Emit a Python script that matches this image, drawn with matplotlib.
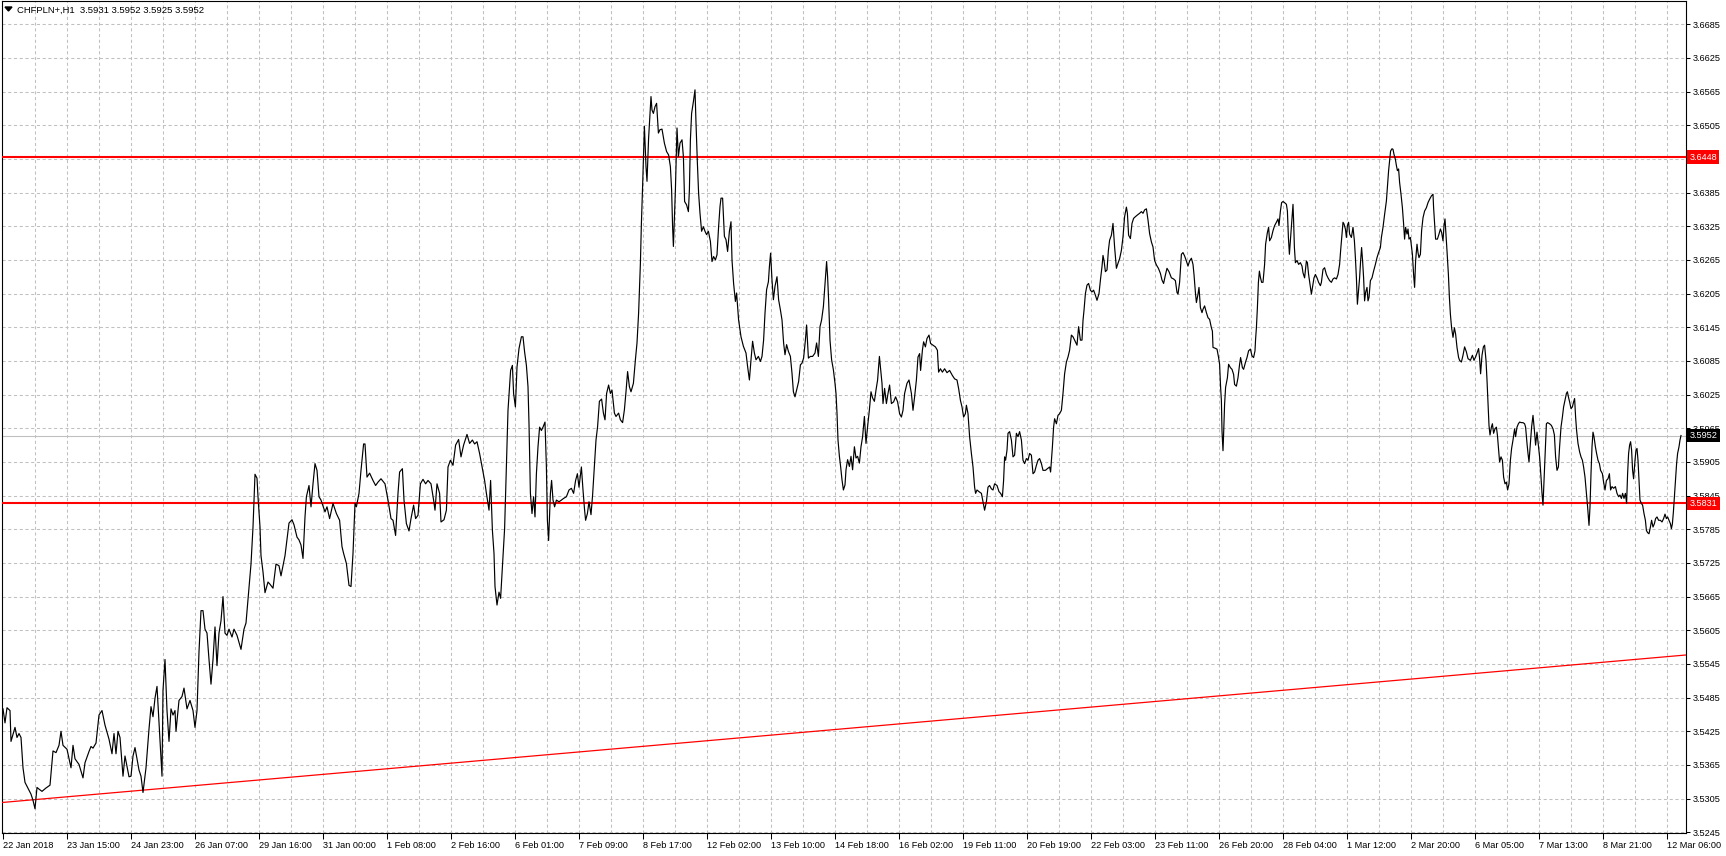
import matplotlib
matplotlib.use("Agg")
import matplotlib.pyplot as plt
from matplotlib.patches import Polygon

plt.rcParams['font.family'] = ['Liberation Sans', 'DejaVu Sans']

# chart header
header = "CHFPLN+,H1  3.5931 3.5952 3.5925 3.5952"

# hourly bars: position (bars since 22 Jan 2018) and close price
hours_a = [0, 1, 2, 3.5, 4, 6, 7, 8, 9, 10,
           11, 13, 14, 15, 16, 17, 18, 19.5, 21.5, 23.5,
           25, 26.5, 28, 29, 30, 32, 34, 35, 36, 38,
           40, 41, 43, 44, 45, 46.5, 48, 49.5, 51, 53,
           54.5, 55.5, 56.5, 57.5, 58.5, 60, 61, 63, 64, 65,
           66, 68, 69, 70, 71.5, 73, 74, 75, 76, 77,
           78, 79, 79.5, 80, 81, 82, 83, 84, 85, 86,
           86.5, 88, 89.5, 90.5, 92, 93.5, 95, 96, 97, 98,
           99, 100, 101, 102, 103, 104, 105, 106, 107, 108,
           109, 110, 111, 112, 113, 114.5, 115.5, 117, 119, 120.5,
           121.5, 123, 124, 125, 126, 127, 127.5, 128.5, 129, 130,
           131, 132.5, 133.5, 135, 136.5, 138, 139, 141, 142, 143,
           144.5, 145.5, 147, 148]
close_a = [3.5465, 3.5440, 3.5467, 3.5462, 3.5407, 3.5432, 3.5414, 3.5421, 3.5414, 3.5360,
           3.5334, 3.5320, 3.5313, 3.5302, 3.5287, 3.5325, 3.5322, 3.5318, 3.5324, 3.5329,
           3.5390, 3.5387, 3.5400, 3.5425, 3.5400, 3.5393, 3.5360, 3.5400, 3.5376, 3.5366,
           3.5342, 3.5369, 3.5389, 3.5398, 3.5395, 3.5404, 3.5454, 3.5462, 3.5436, 3.5411,
           3.5385, 3.5421, 3.5385, 3.5425, 3.5414, 3.5345, 3.5381, 3.5344, 3.5345, 3.5381,
           3.5396, 3.5356, 3.5345, 3.5316, 3.5360, 3.5429, 3.5469, 3.5451, 3.5484, 3.5505,
           3.5440, 3.5374, 3.5345, 3.5498, 3.5553, 3.5462, 3.5407, 3.5465, 3.5454, 3.5462,
           3.5425, 3.5480, 3.5487, 3.5502, 3.5465, 3.5480, 3.5462, 3.5432, 3.5462, 3.5567,
           3.5640, 3.5640, 3.5607, 3.5600, 3.5553, 3.5509, 3.5553, 3.5611, 3.5542, 3.5600,
           3.5622, 3.5665, 3.5600, 3.5596, 3.5607, 3.5593, 3.5607, 3.5596, 3.5571, 3.5607,
           3.5618, 3.5680, 3.5723, 3.5789, 3.5883, 3.5876, 3.5843, 3.5789, 3.5738, 3.5709,
           3.5672, 3.5691, 3.5687, 3.5680, 3.5723, 3.5720, 3.5702, 3.5738, 3.5767, 3.5796,
           3.5802, 3.5793, 3.5771, 3.5766]

hours_b = [149, 150, 151, 151.7, 153, 154, 155, 156, 157, 158,
           159, 161, 162, 163.3, 165, 166.7, 168.3, 169.5, 170.3, 171.7,
           173, 174, 175, 176, 176.7, 178, 179, 180.3, 181, 182,
           183.3, 185, 186.3, 187.5, 189, 191, 192.5, 194, 195, 196.3,
           197.5, 198.3, 199.7, 200.5, 201.7, 203, 204, 205.3, 206.3, 207.5,
           208.7, 210, 211.3, 212.5, 214, 215.3, 216, 217, 218.3, 219,
           220.5, 221.7, 222.5, 223.7, 225, 226.3, 227.8, 229, 230.3, 232,
           233.3, 234.7, 235.8, 237, 238.3, 239.7, 240.8, 241.7, 242.5, 243,
           243.8, 244.7, 245.5, 246, 247, 248, 248.8, 249.7, 250.8, 251.7,
           252.5, 253.3, 253.8, 254.7, 255.3, 256.2, 257, 258, 259.2, 260,
           260.8, 261.7, 262.5, 263, 263.7, 264.5, 265.3, 266, 266.7, 267.5,
           268.3, 269.2, 270, 271, 271.7, 272.2, 272.8, 273.7, 274.3, 275,
           275.8, 276.7, 278, 279.2, 280.3, 281.7, 283, 284.2, 285.3, 286.3,
           287.2, 288, 289.2, 290, 290.8, 291.3, 292.2, 293]
close_b = [3.5757, 3.5733, 3.5807, 3.5843, 3.5863, 3.5825, 3.5866, 3.5902, 3.5890, 3.5843,
           3.5837, 3.5816, 3.5825, 3.5804, 3.5831, 3.5813, 3.5801, 3.5754, 3.5742, 3.5724,
           3.5685, 3.5683, 3.5742, 3.5831, 3.5825, 3.5849, 3.5890, 3.5937, 3.5937, 3.5878,
           3.5885, 3.5872, 3.5863, 3.5869, 3.5875, 3.5866, 3.5837, 3.5804, 3.5801, 3.5774,
           3.5849, 3.5887, 3.5893, 3.5837, 3.5795, 3.5782, 3.5804, 3.5828, 3.5804, 3.5810,
           3.5866, 3.5874, 3.5866, 3.5872, 3.5866, 3.5837, 3.5819, 3.5866, 3.5849, 3.5798,
           3.5802, 3.5819, 3.5896, 3.5908, 3.5899, 3.5935, 3.5945, 3.5914, 3.5935, 3.5954,
           3.5938, 3.5944, 3.5937, 3.5941, 3.5920, 3.5893, 3.5872, 3.5849, 3.5831, 3.5819,
           3.5872, 3.5783, 3.5742, 3.5683, 3.5650, 3.5673, 3.5662, 3.5718, 3.5786, 3.5896,
           3.5997, 3.6039, 3.6068, 3.6077, 3.6027, 3.6003, 3.6074, 3.6107, 3.6128, 3.6128,
           3.6101, 3.6077, 3.6039, 3.5973, 3.5849, 3.5813, 3.5843, 3.5807, 3.5884, 3.5932,
           3.5967, 3.5961, 3.5967, 3.5976, 3.5896, 3.5801, 3.5765, 3.5849, 3.5872, 3.5837,
           3.5825, 3.5837, 3.5834, 3.5837, 3.5840, 3.5843, 3.5855, 3.5858, 3.5849, 3.5872,
           3.5884, 3.5860, 3.5896, 3.5855, 3.5819, 3.5801, 3.5813, 3.5834]

hours_c = [294, 294.8, 295.7, 296.5, 297.3, 298.2, 299.3, 300.2, 301, 301.8,
           302.8, 303.7, 304.5, 305.7, 306.5, 307.8, 308.7, 309.8, 310.7, 311.5,
           312.3, 313.2, 314, 315.2, 316.2, 317, 317.8, 318.7, 319.2, 319.8,
           320.7, 321.5, 322, 322.8, 323.5, 324, 324.5, 325.2, 326, 326.8,
           327.7, 328.5, 329.5, 330.7, 331.8, 332.8, 333.7, 334.3, 334.8, 335.2,
           335.7, 336.2, 336.7, 337, 337.7, 338.5, 339.5, 340.2, 340.8, 341.8,
           342.7, 343.2, 343.7, 344.3, 345.2, 346, 346.5, 347.2, 347.8, 348.5,
           349.3, 350.2, 351, 351.8, 352.7, 353.7, 354.5, 355.3, 356.2, 357,
           357.8, 358.5, 359, 359.8, 360.7, 361.5, 362.3, 363.2, 364, 364.5,
           365.3, 366.2, 366.8, 367.8, 369, 370.2, 371.5, 372.3, 373.2, 374,
           374.8, 375.7, 376.5, 377.7, 378.7, 379.5, 380.3, 381, 381.8, 382.7,
           383.2, 383.8, 384.5, 385.2, 386, 387, 387.8, 388.7, 389.5, 390.3,
           391, 391.8, 392.7, 393.7, 394.5, 395.2, 396, 396.8, 397.8, 398.7,
           399.5, 400.3, 401.2, 401.8, 402.7, 403.7, 404.8, 406, 406.8, 407.7,
           408.5, 409.3, 410.2, 411, 411.8, 412.3, 412.8, 413.5, 414.3, 415.2,
           416, 416.5, 417, 417.5, 418.2, 418.8, 419.5, 420.2, 421, 421.5,
           422.3, 423.2, 424, 424.8, 425.7, 426.5, 427.3, 428.2, 429, 429.8,
           430.7, 431.5, 432.3, 433.2, 434, 434.8, 435.7, 436.5, 437.3, 438.2]
close_c = [3.5811, 3.5846, 3.5897, 3.5944, 3.5968, 3.6013, 3.6017, 3.5992, 3.5980, 3.6027,
           3.6042, 3.6027, 3.6033, 3.5992, 3.5986, 3.5992, 3.5980, 3.5975, 3.5998, 3.6030,
           3.6066, 3.6039, 3.6030, 3.6045, 3.6087, 3.6117, 3.6170, 3.6259, 3.6330, 3.6396,
           3.6503, 3.6431, 3.6405, 3.6482, 3.6526, 3.6556, 3.6532, 3.6526, 3.6538, 3.6544,
           3.6491, 3.6497, 3.6498, 3.6473, 3.6458, 3.6452, 3.6431, 3.6390, 3.6324, 3.6289,
           3.6342, 3.6390, 3.6461, 3.6500, 3.6449, 3.6473, 3.6479, 3.6449, 3.6369, 3.6363,
           3.6351, 3.6390, 3.6479, 3.6526, 3.6547, 3.6568, 3.6509, 3.6437, 3.6384, 3.6348,
           3.6316, 3.6324, 3.6316, 3.6310, 3.6316, 3.6298, 3.6262, 3.6271, 3.6265, 3.6274,
           3.6324, 3.6360, 3.6375, 3.6375, 3.6307, 3.6301, 3.6280, 3.6316, 3.6333, 3.6265,
           3.6223, 3.6191, 3.6206, 3.6158, 3.6128, 3.6111, 3.6099, 3.6075, 3.6051, 3.6087,
           3.6120, 3.6099, 3.6087, 3.6093, 3.6084, 3.6093, 3.6122, 3.6170, 3.6212, 3.6226,
           3.6253, 3.6277, 3.6229, 3.6194, 3.6218, 3.6235, 3.6194, 3.6176, 3.6158, 3.6117,
           3.6096, 3.6114, 3.6102, 3.6093, 3.6063, 3.6030, 3.6021, 3.6033, 3.6048, 3.6078,
           3.6081, 3.6090, 3.6122, 3.6149, 3.6090, 3.6093, 3.6093, 3.6099, 3.6117, 3.6093,
           3.6146, 3.6158, 3.6182, 3.6223, 3.6262, 3.6235, 3.6194, 3.6122, 3.6087, 3.6069,
           3.6045, 3.6027, 3.5992, 3.5944, 3.5915, 3.5897, 3.5873, 3.5855, 3.5864, 3.5891,
           3.5909, 3.5897, 3.5915, 3.5891, 3.5932, 3.5912, 3.5915, 3.5903, 3.5932, 3.5950,
           3.5986, 3.5938, 3.5968, 3.5998, 3.6030, 3.6019, 3.6013, 3.6033, 3.6051, 3.6093]

hours_d = [439.5, 440, 440.8, 441.7, 442.5, 443.3, 444.2, 445.3, 446.3, 447.3,
           448.3, 449.2, 450, 450.8, 452, 453, 454.2, 455, 455.8, 456.7,
           457.5, 458.3, 458.8, 459.7, 460.3, 461.2, 462, 463, 463.8, 465,
           466.2, 467.2, 467.8, 468.7, 469.7, 470.8, 472, 473.3, 474.7, 475.8,
           477, 477.8, 478.7, 479.5, 480.3, 481.2, 481.7, 482.5, 483.3, 484.2,
           485, 485.8, 486.3, 487, 488, 489.2, 490, 490.8, 491.7, 492.5,
           493.3, 494.2, 495, 495.8, 497, 498, 498.8, 499.7, 500.3, 500.8,
           501.3, 502, 502.5, 503.3, 504.2, 505, 505.8, 506.7, 507.5, 508.3,
           509.2, 510, 510.8, 511.7, 512.5, 513.3, 514.2, 515, 515.8, 516.7,
           517.5, 518.3, 519.2, 520, 521.2, 522.2, 523.3, 523.8, 524.7, 525.3,
           525.8, 526.7, 527.5, 528.3, 529.2, 530, 530.8, 531.7, 532.5, 533.3,
           534.2, 535, 536.2, 537, 537.8, 538.7, 539.5, 540, 540.5, 541.2,
           542, 542.8, 543.7, 544.5, 545.3, 546.2, 547, 548, 548.8, 549.5,
           550, 550.5, 551.2, 552, 552.7, 553.3, 554.2, 555, 555.8, 556.7,
           557.5, 558.3, 559.2, 560, 560.8, 561.7, 562.2, 562.8, 563.7, 564.5,
           565.3, 566.2, 567.2, 568.3, 569.2, 570, 570.8, 571.7, 572.5, 573.3,
           574.2, 575, 575.8, 576.7, 577.7, 578.7, 579.5, 580.3, 581.2, 582,
           583]
close_d = [3.6045, 3.6009, 3.6036, 3.6009, 3.6027, 3.6042, 3.6009, 3.6012, 3.6021, 3.6012,
           3.5991, 3.5985, 3.5997, 3.6027, 3.6045, 3.6051, 3.6027, 3.5997, 3.6021, 3.6051,
           3.6092, 3.6098, 3.6068, 3.6104, 3.6119, 3.6110, 3.6125, 3.6131, 3.6116, 3.6113,
           3.6110, 3.6104, 3.6065, 3.6071, 3.6065, 3.6071, 3.6064, 3.6068, 3.6059, 3.6053,
           3.6051, 3.6036, 3.6015, 3.6003, 3.5985, 3.5991, 3.6006, 3.5991, 3.5950, 3.5920,
           3.5896, 3.5860, 3.5849, 3.5855, 3.5852, 3.5849, 3.5834, 3.5819, 3.5834, 3.5860,
           3.5863, 3.5857, 3.5855, 3.5866, 3.5863, 3.5852, 3.5849, 3.5843, 3.5872, 3.5914,
           3.5908, 3.5926, 3.5956, 3.5959, 3.5944, 3.5914, 3.5917, 3.5956, 3.5950, 3.5959,
           3.5944, 3.5908, 3.5902, 3.5911, 3.5908, 3.5920, 3.5917, 3.5884, 3.5887, 3.5899,
           3.5908, 3.5911, 3.5902, 3.5890, 3.5890, 3.5893, 3.5896, 3.5887, 3.5932, 3.5967,
           3.5982, 3.5973, 3.5988, 3.5991, 3.5997, 3.6027, 3.6062, 3.6083, 3.6092, 3.6104,
           3.6131, 3.6128, 3.6119, 3.6113, 3.6146, 3.6122, 3.6122, 3.6157, 3.6175, 3.6205,
           3.6220, 3.6223, 3.6211, 3.6208, 3.6211, 3.6202, 3.6193, 3.6205, 3.6232, 3.6253,
           3.6273, 3.6264, 3.6244, 3.6247, 3.6282, 3.6300, 3.6309, 3.6330, 3.6288, 3.6250,
           3.6259, 3.6267, 3.6282, 3.6306, 3.6342, 3.6359, 3.6348, 3.6309, 3.6303, 3.6330,
           3.6339, 3.6342, 3.6345, 3.6348, 3.6351, 3.6348, 3.6354, 3.6356, 3.6336, 3.6312,
           3.6297, 3.6288, 3.6264, 3.6256, 3.6250, 3.6241, 3.6229, 3.6223, 3.6238, 3.6250,
           3.6244]

hours_e = [584.2, 585.3, 586.2, 587, 587.5, 588.3, 589.2, 590, 590.8, 591.7,
           592.5, 593.3, 594.2, 595, 595.5, 596.2, 596.7, 597.5, 598, 598.7,
           599.5, 600, 600.8, 601.7, 602.5, 603.3, 604.2, 604.7, 605, 605.8,
           607, 607.8, 608.3, 608.8, 609.2, 609.5, 610, 610.3, 610.8, 611.3,
           612.2, 612.8, 613.7, 614.5, 615.3, 615.8, 616.7, 617.5, 618.3, 618.8,
           619.7, 620.3, 621.2, 622, 622.8, 623.7, 624.5, 625.3, 626, 626.3,
           626.7, 627.2, 627.7, 628.2, 628.7, 629.3, 630, 630.8, 631.3, 632.2,
           632.8, 633.3, 634.2, 635, 635.8, 636.7, 637.5, 638, 638.7, 639.3,
           640, 640.8, 641.7, 642.2, 642.7, 643.2, 643.7, 644.3, 645, 645.3,
           645.7, 646.2, 647, 647.8, 648.7, 649.5, 650, 650.8, 651.7, 652.2,
           652.8, 653.7, 654.2, 655, 655.5, 656.2, 657, 657.8, 658.7, 659.2,
           660, 660.8, 661.7, 662.5, 663.3, 664.2, 665, 665.8, 666.7, 667.5,
           668.3, 668.8, 669.5, 670, 670.5, 671.2, 671.7, 672.2, 672.8, 673.3,
           674.2, 675, 675.7, 676.2, 676.7, 677.2, 677.7, 678.3, 678.8, 679.3,
           679.8, 680.3, 680.8, 681.3, 682, 682.5, 683, 683.7, 684.5, 685.3,
           686.2, 687, 687.8, 688.7, 689.2, 690, 690.8, 691.7, 692.2, 692.8,
           693.3, 693.8, 694.5, 695, 695.5, 696.2, 696.7, 697.2, 697.8, 698.3,
           699, 699.7, 700.3, 700.8, 701.3, 702, 702.5, 703, 703.7, 704.2,
           704.7, 705.3, 705.8, 706.3, 707, 707.5, 708, 708.7, 709.3, 710,
           710.8, 711.7, 712.5, 713.3, 714.2, 715, 715.3, 715.8, 716.3, 717.2,
           718, 718.7, 719.3, 720, 720.5, 721, 721.5, 722, 722.7, 723.2,
           723.7, 724.3, 725, 725.7, 726.3, 727, 727.8]
close_e = [3.6233, 3.6231, 3.6228, 3.6207, 3.6204, 3.6225, 3.6275, 3.6278, 3.6272, 3.6263,
           3.6254, 3.6263, 3.6268, 3.6257, 3.6239, 3.6207, 3.6189, 3.6204, 3.6216, 3.6180,
           3.6171, 3.6177, 3.6183, 3.6171, 3.6162, 3.6159, 3.6144, 3.6138, 3.6109, 3.6108,
           3.6106, 3.6091, 3.6079, 3.6038, 3.6014, 3.5960, 3.5925, 3.5954, 3.6008, 3.6038,
           3.6055, 3.6079, 3.6073, 3.6070, 3.6061, 3.6043, 3.6040, 3.6055, 3.6079, 3.6091,
           3.6073, 3.6070, 3.6082, 3.6091, 3.6103, 3.6106, 3.6094, 3.6091, 3.6103, 3.6124,
           3.6144, 3.6180, 3.6225, 3.6245, 3.6234, 3.6225, 3.6225, 3.6257, 3.6293, 3.6314,
           3.6323, 3.6299, 3.6305, 3.6317, 3.6326, 3.6332, 3.6338, 3.6326, 3.6352, 3.6367,
           3.6369, 3.6367, 3.6364, 3.6352, 3.6305, 3.6275, 3.6299, 3.6329, 3.6364, 3.6335,
           3.6287, 3.6260, 3.6264, 3.6257, 3.6260, 3.6254, 3.6242, 3.6233, 3.6263, 3.6260,
           3.6239, 3.6216, 3.6204, 3.6222, 3.6233, 3.6239, 3.6233, 3.6225, 3.6219, 3.6225,
           3.6248, 3.6251, 3.6239, 3.6233, 3.6228, 3.6225, 3.6231, 3.6233, 3.6231, 3.6239,
           3.6257, 3.6281, 3.6311, 3.6332, 3.6329, 3.6320, 3.6305, 3.6326, 3.6332, 3.6311,
           3.6305, 3.6323, 3.6299, 3.6269, 3.6233, 3.6186, 3.6207, 3.6233, 3.6263, 3.6287,
           3.6263, 3.6233, 3.6192, 3.6207, 3.6216, 3.6192, 3.6198, 3.6228, 3.6233, 3.6245,
           3.6257, 3.6269, 3.6278, 3.6287, 3.6305, 3.6323, 3.6346, 3.6370, 3.6394, 3.6424,
           3.6441, 3.6459, 3.6463, 3.6462, 3.6453, 3.6444, 3.6433, 3.6424, 3.6427, 3.6403,
           3.6382, 3.6358, 3.6329, 3.6302, 3.6323, 3.6311, 3.6320, 3.6302, 3.6305, 3.6290,
           3.6275, 3.6239, 3.6216, 3.6263, 3.6293, 3.6278, 3.6269, 3.6275, 3.6317, 3.6340,
           3.6352, 3.6358, 3.6367, 3.6373, 3.6379, 3.6382, 3.6358, 3.6329, 3.6302, 3.6302,
           3.6311, 3.6320, 3.6314, 3.6299, 3.6326, 3.6338, 3.6311, 3.6281, 3.6239, 3.6198,
           3.6168, 3.6144, 3.6127, 3.6144, 3.6133, 3.6109, 3.6091]

hours_f = [728.3, 729.2, 730, 730.8, 731.7, 732.5, 733.7, 734.7, 735.5, 736.3,
           737.2, 737.8, 738.3, 738.8, 739.5, 740.2, 740.8, 741.5, 742, 742.5,
           743, 743.5, 744.2, 744.7, 745.3, 746, 746.7, 747.2, 747.7, 748.3,
           749, 749.7, 750.3, 751, 751.7, 752.3, 753, 753.7, 754.3, 755,
           755.8, 756.3, 757, 757.7, 758.3, 759.2, 760, 760.8, 761.3, 762,
           762.5, 763, 763.7, 764.3, 765, 765.7, 766.3, 767, 767.7, 768.3,
           769, 769.5, 770, 770.5, 771.2, 771.7, 772.3, 773.3, 774.2, 775,
           775.7, 776.3, 777, 777.7, 778.3, 779, 779.7, 780.3, 781, 781.7,
           782.2, 782.7, 783.3, 784, 784.7, 785.3, 785.8, 786.3, 786.8, 787.5,
           788.3, 789, 789.7, 790.3, 791, 791.7, 792.3, 793, 793.5, 794,
           794.5, 795, 795.5, 796.2, 796.8, 797.5, 798.2, 798.8, 799.7, 800.3,
           801, 801.7, 802.5, 803.2, 803.8, 804.5, 805.3, 806.2, 807, 807.8,
           808.5, 809.2, 809.8, 810.5, 811.2, 811.8, 812.3, 812.8, 813.3, 813.8,
           814.3, 814.8, 815.3, 816, 816.5, 817, 817.5, 818, 818.5, 819.2,
           819.8, 820.5, 821.2, 821.7, 822.3, 823, 823.7, 824.3, 825, 825.7,
           826.3, 827, 827.8, 828.7, 829.5, 830.3, 831, 831.7, 832.3, 833,
           833.7, 834.2, 834.7, 835.2, 835.8, 836.3, 836.8, 837.3, 838, 838.5,
           839]
close_f = [3.6086, 3.6083, 3.6095, 3.6110, 3.6101, 3.6089, 3.6086, 3.6095, 3.6086, 3.6092,
           3.6101, 3.6107, 3.6089, 3.6062, 3.6095, 3.6110, 3.6113, 3.6086, 3.6051, 3.6009,
           3.5970, 3.5953, 3.5967, 3.5973, 3.5956, 3.5964, 3.5967, 3.5953, 3.5932, 3.5905,
           3.5914, 3.5908, 3.5878, 3.5866, 3.5869, 3.5855, 3.5866, 3.5908, 3.5929, 3.5944,
           3.5964, 3.5950, 3.5967, 3.5973, 3.5976, 3.5975, 3.5975, 3.5973, 3.5967, 3.5938,
           3.5920, 3.5905, 3.5938, 3.5967, 3.5988, 3.5961, 3.5935, 3.5958, 3.5935, 3.5914,
           3.5878, 3.5849, 3.5828, 3.5872, 3.5932, 3.5973, 3.5975, 3.5973, 3.5970, 3.5964,
           3.5953, 3.5914, 3.5890, 3.5896, 3.5932, 3.5967, 3.5985, 3.6003, 3.6015, 3.6027,
           3.6030, 3.6021, 3.6012, 3.6000, 3.6003, 3.6012, 3.6018, 3.5985, 3.5961, 3.5938,
           3.5923, 3.5914, 3.5908, 3.5896, 3.5878, 3.5849, 3.5825, 3.5792, 3.5825, 3.5884,
           3.5932, 3.5958, 3.5950, 3.5932, 3.5920, 3.5908, 3.5902, 3.5890, 3.5884, 3.5869,
           3.5855, 3.5872, 3.5875, 3.5884, 3.5855, 3.5861, 3.5858, 3.5861, 3.5849, 3.5843,
           3.5846, 3.5840, 3.5849, 3.5840, 3.5849, 3.5831, 3.5884, 3.5920, 3.5935, 3.5941,
           3.5926, 3.5890, 3.5875, 3.5908, 3.5926, 3.5929, 3.5908, 3.5872, 3.5837, 3.5831,
           3.5828, 3.5813, 3.5801, 3.5783, 3.5779, 3.5777, 3.5789, 3.5801, 3.5789, 3.5795,
           3.5804, 3.5807, 3.5801, 3.5801, 3.5798, 3.5804, 3.5812, 3.5804, 3.5807, 3.5801,
           3.5795, 3.5786, 3.5795, 3.5816, 3.5849, 3.5878, 3.5902, 3.5920, 3.5932, 3.5944,
           3.5952]

hours = hours_a + hours_b + hours_c + hours_d + hours_e + hours_f
close = close_a + close_b + close_c + close_d + close_e + close_f

# horizontal levels, trend line, last price
resistance = 3.6448
support = 3.5831
last_price = 3.5952
trend_hours = [-1.0, 841.5]
trend_price = [3.5298, 3.5561]

# axis labels
date_ticks = [0, 32, 64, 96, 128, 160, 192, 224, 256, 288, 320, 352, 384, 416,
              448, 480, 512, 544, 576, 608, 640, 672, 704, 736, 768, 800, 832]
date_labels = ["22 Jan 2018", "23 Jan 15:00", "24 Jan 23:00", "26 Jan 07:00",
               "29 Jan 16:00", "31 Jan 00:00", "1 Feb 08:00", "2 Feb 16:00",
               "6 Feb 01:00", "7 Feb 09:00", "8 Feb 17:00", "12 Feb 02:00",
               "13 Feb 10:00", "14 Feb 18:00", "16 Feb 02:00", "19 Feb 11:00",
               "20 Feb 19:00", "22 Feb 03:00", "23 Feb 11:00", "26 Feb 20:00",
               "28 Feb 04:00", "1 Mar 12:00", "2 Mar 20:00", "6 Mar 05:00",
               "7 Mar 13:00", "8 Mar 21:00", "12 Mar 06:00"]
price_ticks = [3.5245 + 0.006 * i for i in range(25)]

W, H = 1726, 856
fig = plt.figure(figsize=(W / 100, H / 100), dpi=100)
ax = fig.add_axes([2 / W, 23 / H, 1684 / W, 832 / H])
ax.set_xlim(-0.5, 841.5)
ax.set_ylim(3.52438, 3.67263)

grid_col = '#c0c0c0'
ax.hlines(price_ticks, 0, 1, transform=ax.get_yaxis_transform(),
          colors=grid_col, linewidth=0.75, linestyles=(0, (3, 2.5)), zorder=1)
ax.vlines(range(16, 841, 16), 0, 1, transform=ax.get_xaxis_transform(),
          colors=grid_col, linewidth=0.75, linestyles=(0, (3, 2.5)), zorder=1)

ax.axhline(last_price, color=grid_col, linewidth=0.8, zorder=2)
ax.plot(trend_hours, trend_price, color='red', linewidth=0.9, zorder=3)
ax.axhline(resistance, color='red', linewidth=1.5, zorder=3)
ax.axhline(support, color='red', linewidth=1.5, zorder=3)
ax.plot(hours, close, color='black', linewidth=0.85, zorder=4)

for sp in ax.spines.values():
    sp.set_linewidth(0.8)
    sp.set_color('black')

# tags on the right scale (a tick label hidden under a tag is left blank)
tags = [(resistance, 'red'), (support, 'red'), (last_price, 'black')]

ax.yaxis.tick_right()
ax.set_yticks(price_ticks)
ylabels = []
for v in price_ticks:
    hidden = any(abs(v - t) < 0.0005 for t, _ in tags[:1])
    ylabels.append("" if hidden else f"{v:.4f}")
ax.set_yticklabels(ylabels)
ax.tick_params(axis='y', length=3, width=0.75, pad=2, labelsize=6.6)
ax.set_xticks(date_ticks)
ax.set_xticklabels(date_labels)
ax.tick_params(axis='x', length=4, width=0.75, pad=2, labelsize=6.6)
for lab in ax.get_xticklabels():
    lab.set_horizontalalignment('left')

for val, col in tags:
    ax.text(1 + 3.5 / 1684, val, f"{val:.4f}", transform=ax.get_yaxis_transform(),
            ha='left', va='center', fontsize=6.6, color='white', zorder=10,
            bbox=dict(boxstyle='square,pad=0.25', fc=col, ec='none'),
            clip_on=False)

# header with the small triangle
fig.add_artist(Polygon([(5 / W, 1 - 7 / H), (12 / W, 1 - 7 / H), (8.5 / W, 1 - 11 / H)],
                       closed=True, color='black', transform=fig.transFigure))
fig.text(17 / W, 1 - 10 / H, header, fontsize=6.8, va='center', ha='left')

fig.savefig('out.png', dpi=100)
